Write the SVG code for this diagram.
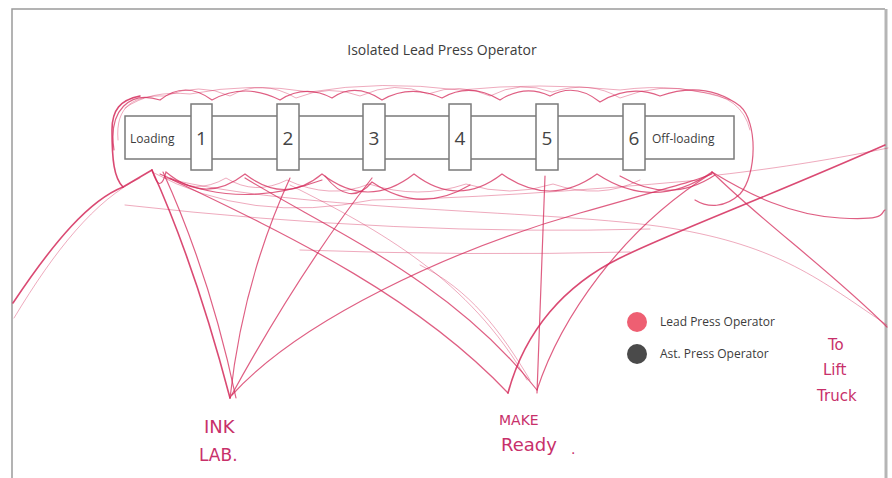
<svg xmlns="http://www.w3.org/2000/svg" width="892" height="478" viewBox="0 0 892 478">
<style>
.box{fill:#fff;stroke:#7a7a7a;stroke-width:1.5}
.lbl{font-family:"Open Sans","Liberation Sans",sans-serif;fill:#3c3c3c}
.num{font-family:"Open Sans","Liberation Sans",sans-serif;fill:#444;font-size:19px;text-anchor:middle}
.s{fill:none;stroke:#d42a5a;stroke-width:1.2;stroke-linecap:round;opacity:.75}
.f{fill:none;stroke:#d42a5a;stroke-width:1;stroke-linecap:round;opacity:.4}
.t{fill:none;stroke:#d42a5a;stroke-width:1.6;stroke-linecap:round;opacity:.85}
.hw{font-family:"DejaVu Sans","Liberation Sans",sans-serif;font-weight:normal;fill:#c8306a}
</style>
<rect x="0" y="0" width="892" height="478" fill="#fff"/>
<g id="frame">
<path d="M12,478 V9 H885" fill="none" stroke="#9a9a9a" stroke-width="1.5"/>
<line x1="886" y1="9" x2="886" y2="478" stroke="#b5b5b5" stroke-width="3"/>
</g>
<text id="title" class="lbl" x="442" y="55" font-size="14" text-anchor="middle">Isolated Lead Press Operator</text>

<g id="sketch">
<!-- top scallops -->
<path class="s" d="M114,150 C108,110 130,90 160,100 Q185,80 212,100 Q245,82 280,100 Q305,84 332,98 Q355,82 382,100 Q410,84 442,98 Q470,82 500,100 Q525,84 550,96 Q575,82 600,102 Q630,84 660,96 Q705,80 740,106 C758,122 757,175 740,194 C725,208 708,208 695,200"/>
<path class="f" d="M118,140 C115,105 135,95 165,96 Q200,82 230,96 Q262,78 296,98 Q330,84 360,96 Q395,80 428,94 Q460,82 490,96 Q520,80 552,92 Q590,80 620,98 Q660,82 700,92 Q742,96 750,130"/>
<path class="f" d="M125,108 Q150,90 190,94 Q250,82 310,92 Q380,80 460,90 Q540,82 620,90 Q680,82 730,100"/>
<!-- left loop and long left curve -->
<path class="t" d="M152,170 L123,187 C114,178 112,160 112,130 C112,110 120,100 140,96"/>
<path class="t" d="M123,187 C90,200 55,240 13,303"/>
<path class="f" d="M140,178 C95,200 55,250 14,318"/>
<!-- bottom scallops -->
<path class="s" d="M152,170 Q160,196 166,172 Q205,205 245,174 Q285,205 322,174 Q368,210 414,174 Q458,208 502,174 Q550,208 597,174 Q655,212 712,172"/>
<path class="f" d="M166,176 Q195,196 226,178 Q255,196 287,180 Q330,200 369,184 Q418,200 466,184 Q510,198 553,184 Q600,200 640,180"/>
<path class="s" d="M170,178 Q240,210 322,180 M325,176 Q350,208 372,182 Q420,215 470,185 M620,176 Q670,205 715,175"/>
<path class="f" d="M152,172 Q250,225 372,200 Q500,198 700,180"/>
<!-- INK LAB lines -->
<path class="t" d="M152,170 Q195,265 230,398"/>
<path class="s" d="M163,172 Q210,275 236,398"/>
<path class="s" d="M230,398 Q243,280 290,178"/>
<path class="s" d="M230,398 Q300,270 372,178"/>
<path class="s" d="M232,395 C300,320 450,250 580,213 S690,182 712,174"/>
<!-- MAKE Ready lines -->
<path class="s" d="M160,174 C300,240 420,300 508,393"/>
<path class="s" d="M245,178 C330,230 450,280 537,390"/>
<path class="f" d="M290,185 C380,230 470,280 527,380"/>
<path class="f" d="M420,265 C470,290 500,330 530,380"/>
<path class="s" d="M537,393 Q540,300 545,176"/>
<path class="t" d="M508,393 C525,330 565,285 620,258 S760,200 885,145"/>
<path class="s" d="M537,390 C560,320 620,230 712,173"/>
<!-- right side -->
<path class="s" d="M712,172 C760,220 830,270 887,327"/>
<path class="s" d="M712,172 C750,195 790,215 840,218 S880,212 885,210"/>
<path class="f" d="M718,175 C780,168 840,158 888,148"/>
<path class="f" d="M165,178 C300,212 560,210 670,228 S820,280 887,325"/>
<path class="f" d="M125,205 Q400,236 650,229"/>
<path class="f" d="M300,250 Q470,256 630,252"/>
</g>

<g id="bar">
<rect class="box" x="125" y="116" width="609" height="43"/>
<text class="lbl" x="130" y="143" font-size="12">Loading</text>
<text class="lbl" x="652" y="143" font-size="12">Off-loading</text>
</g>
<g id="st1"><rect class="box" x="191" y="104" width="21" height="66"/><text class="num" x="201.5" y="145">1</text></g>
<g id="st2"><rect class="box" x="277" y="104" width="22" height="66"/><text class="num" x="288" y="145">2</text></g>
<g id="st3"><rect class="box" x="363" y="104" width="22" height="66"/><text class="num" x="374" y="145">3</text></g>
<g id="st4"><rect class="box" x="449" y="104" width="22" height="66"/><text class="num" x="460" y="145">4</text></g>
<g id="st5"><rect class="box" x="536" y="104" width="22" height="66"/><text class="num" x="547" y="145">5</text></g>
<g id="st6"><rect class="box" x="623" y="104" width="22" height="66"/><text class="num" x="634" y="145">6</text></g>

<g id="legend">
<circle cx="637" cy="322" r="10" fill="#ee5f72"/>
<text class="lbl" x="660" y="326" font-size="12">Lead Press Operator</text>
<circle cx="637" cy="354" r="10" fill="#4a4a4a"/>
<text class="lbl" x="660" y="358" font-size="12">Ast. Press Operator</text>
</g>

<g id="inklab">
<text class="hw" x="204" y="433" font-size="18">INK</text>
<text class="hw" x="199" y="461" font-size="17">LAB.</text>
</g>
<g id="makeready">
<text class="hw" x="499" y="425" font-size="14">MAKE</text>
<text class="hw" x="501" y="451" font-size="18">Ready</text>
<text class="hw" x="571" y="454" font-size="14">.</text>
</g>
<g id="lifttruck">
<text class="hw" x="828" y="350" font-size="15">To</text>
<text class="hw" x="823" y="375" font-size="15">Lift</text>
<text class="hw" x="817" y="401" font-size="15">Truck</text>
</g>
</svg>
